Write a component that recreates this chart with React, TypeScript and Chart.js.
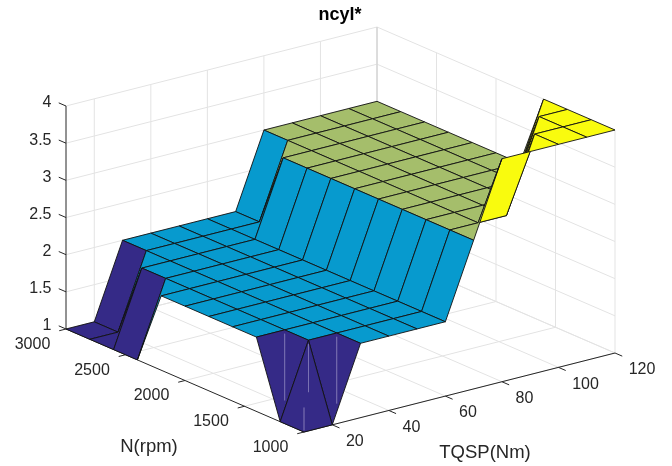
import React, { useEffect, useRef } from "react";
import { Chart, registerables } from "chart.js";

Chart.register(...registerables);

const N_RPM = [1000, 1200, 1400, 1600, 1800, 2000, 2200, 2400, 2600, 2800, 3000];
const TQSP_NM = [10, 20, 30, 40, 50, 60, 70, 80, 90, 100, 110, 120];
const NCYL_1000 = [1, 1, 2, 2, 2, 2, 3, 4, 4, 4, 4, 4];
const NCYL_1200 = [1, 2, 2, 2, 2, 2, 3, 3, 3, 4, 4, 4];
const NCYL_1400 = [2, 2, 2, 2, 2, 2, 3, 3, 3, 3, 4, 4];
const NCYL_1600 = [2, 2, 2, 2, 2, 2, 3, 3, 3, 3, 3, 4];
const NCYL_1800 = [2, 2, 2, 2, 2, 2, 3, 3, 3, 3, 3, 3];
const NCYL_2000 = [2, 2, 2, 2, 2, 2, 3, 3, 3, 3, 3, 3];
const NCYL_2200 = [2, 2, 2, 2, 2, 2, 3, 3, 3, 3, 3, 3];
const NCYL_2400 = [1, 2, 2, 2, 2, 2, 3, 3, 3, 3, 3, 3];
const NCYL_2600 = [1, 2, 2, 2, 2, 2, 3, 3, 3, 3, 3, 3];
const NCYL_2800 = [1, 1, 2, 2, 2, 2, 2, 3, 3, 3, 3, 3];
const NCYL_3000 = [1, 1, 2, 2, 2, 2, 2, 3, 3, 3, 3, 3];
const NCYL = [
  NCYL_1000, NCYL_1200, NCYL_1400, NCYL_1600, NCYL_1800, NCYL_2000,
  NCYL_2200, NCYL_2400, NCYL_2600, NCYL_2800, NCYL_3000,
];

const N_TICKS = [1000, 1500, 2000, 2500, 3000];
const T_TICKS = [20, 40, 60, 80, 100, 120];
const Z_TICKS = [1, 1.5, 2, 2.5, 3, 3.5, 4];
const N_RANGE = [1000, 3000];
const T_RANGE = [10, 120];
const Z_RANGE = [1, 4];

const TITLE = "ncyl*";
const N_LABEL = "N(rpm)";
const T_LABEL = "TQSP(Nm)";

const COLOR_BY_LEVEL: Record<number, string> = {
  1: "#352a87",
  2: "#079ace",
  3: "#a5be6b",
  4: "#f9fb0e",
};

const AXIS_COLOR = "#262626";
const GRID_COLOR = "#e3e3e3";

// Orthographic view of the 3D box onto the page
function project(n: number, t: number, z: number) {
  return {
    x: 66 + ((3000 - n) * 238) / 2000 + ((t - 10) * 311) / 110,
    y: 329 + ((3000 - n) * 103) / 2000 - ((t - 10) * 79) / 110 - (z - 1) * 74.33,
  };
}

type P3 = [number, number, number];

function lineDs(points: P3[], color: string, width: number) {
  return {
    data: points.map((p) => project(p[0], p[1], p[2])),
    showLine: true,
    borderColor: color,
    borderWidth: width,
    pointRadius: 0,
    fill: false,
    clip: false,
    tension: 0,
  };
}

function buildDatasets() {
  const [n0, n1] = N_RANGE;
  const [t0, t1] = T_RANGE;
  const [z0, z1] = Z_RANGE;
  const out: any[] = [];

  // grid on the floor and on the two back walls
  for (const n of N_TICKS) {
    out.push(lineDs([[n, t0, z0], [n, t1, z0], [n, t1, z1]], GRID_COLOR, 1));
  }
  for (const t of [...T_TICKS]) {
    out.push(lineDs([[n0, t, z0], [n1, t, z0], [n1, t, z1]], GRID_COLOR, 1));
  }
  for (const z of Z_TICKS) {
    out.push(lineDs([[n1, t0, z], [n1, t1, z], [n0, t1, z]], GRID_COLOR, 1));
  }
  out.push(lineDs([[n1, t1, z0], [n1, t1, z1]], "#cfcfcf", 1));

  // axis lines and tick marks
  out.push(lineDs([[n1, t0, z0], [n1, t0, z1]], AXIS_COLOR, 1));
  out.push(lineDs([[n1, t0, z0], [n0, t0, z0]], AXIS_COLOR, 1));
  out.push(lineDs([[n0, t0, z0], [n0, t1, z0]], AXIS_COLOR, 1));
  for (const z of Z_TICKS) {
    out.push(lineDs([[n1, t0, z], [n1 + 61, t0, z]], AXIS_COLOR, 1));
  }
  for (const n of N_TICKS) {
    out.push(lineDs([[n, t0, z0], [n, t0 - 2.4, z0]], AXIS_COLOR, 1));
  }
  for (const t of T_TICKS) {
    out.push(lineDs([[n0, t, z0], [n0 - 61, t, z0]], AXIS_COLOR, 1));
  }

  // surface, back to front
  for (let i = N_RPM.length - 2; i >= 0; i--) {
    for (let j = TQSP_NM.length - 2; j >= 0; j--) {
      const corners: P3[] = [
        [N_RPM[i], TQSP_NM[j], NCYL[i][j]],
        [N_RPM[i + 1], TQSP_NM[j], NCYL[i + 1][j]],
        [N_RPM[i + 1], TQSP_NM[j + 1], NCYL[i + 1][j + 1]],
        [N_RPM[i], TQSP_NM[j + 1], NCYL[i][j + 1]],
        [N_RPM[i], TQSP_NM[j], NCYL[i][j]],
      ];
      out.push({
        ...lineDs(corners, "#111111", 0.9),
        fill: "shape",
        backgroundColor: COLOR_BY_LEVEL[NCYL[i][j]],
        borderJoinStyle: "round",
      });
    }
  }

  // pale seams on the front purple faces
  const seam = "rgba(190,185,225,0.22)";
  out.push(lineDs([[1400, 20, 1.95], [1400, 20, 1.05]], seam, 1));
  out.push(lineDs([[1200, 20, 1.95], [1200, 20, 1.3]], seam, 1));
  out.push(lineDs([[1200, 30, 1.95], [1200, 30, 1.05]], seam, 1));
  out.push(lineDs([[1000, 10, 1.33], [1000, 10, 1.02]], seam, 1));

  return out.reverse();
}

const textPlugin = {
  id: "boxText",
  afterDraw(chart: any) {
    const { ctx, scales } = chart;
    const px = (p: { x: number; y: number }) => ({
      x: scales.x.getPixelForValue(p.x),
      y: scales.y.getPixelForValue(p.y),
    });
    const face = '"Liberation Sans", Arial, sans-serif';
    ctx.save();
    ctx.fillStyle = AXIS_COLOR;
    ctx.textBaseline = "middle";

    ctx.font = `16px ${face}`;
    ctx.textAlign = "right";
    for (const z of Z_TICKS) {
      const p = px(project(3000, 10, z));
      ctx.fillText(String(z), 51.5, p.y - 3);
    }
    ctx.textAlign = "center";
    for (const n of N_TICKS) {
      const p = px(project(n, 10, 1));
      ctx.fillText(String(n), p.x - 33.5, p.y + 15.5);
    }
    ctx.textAlign = "left";
    for (const t of T_TICKS) {
      const p = px(project(1000, t, 1));
      ctx.fillText(String(t), p.x + 13.7, p.y + 17);
    }

    ctx.textAlign = "center";
    ctx.font = `18.5px ${face}`;
    ctx.fillText(N_LABEL, 149, 447);
    ctx.fillText(T_LABEL, 485, 453);
    ctx.fillStyle = "#000000";
    ctx.font = `bold 18px ${face}`;
    ctx.fillText(TITLE, 340, 15.5);
    ctx.restore();
  },
};

export default function App() {
  const ref = useRef<HTMLCanvasElement>(null);
  useEffect(() => {
    document.body.style.margin = "0";
    const chart = new Chart(ref.current as HTMLCanvasElement, {
      type: "scatter",
      data: { datasets: buildDatasets() },
      options: {
        animation: false,
        responsive: false,
        layout: { padding: 0 },
        plugins: { legend: { display: false }, tooltip: { enabled: false }, title: { display: false } },
        events: [],
        scales: {
          x: { type: "linear", min: 0, max: 672, display: false },
          y: { type: "linear", min: 0, max: 466, reverse: true, display: false },
        },
      },
      plugins: [textPlugin],
    } as any);
    return () => chart.destroy();
  }, []);
  return <canvas ref={ref} width={672} height={466} style={{ display: "block" }} />;
}
